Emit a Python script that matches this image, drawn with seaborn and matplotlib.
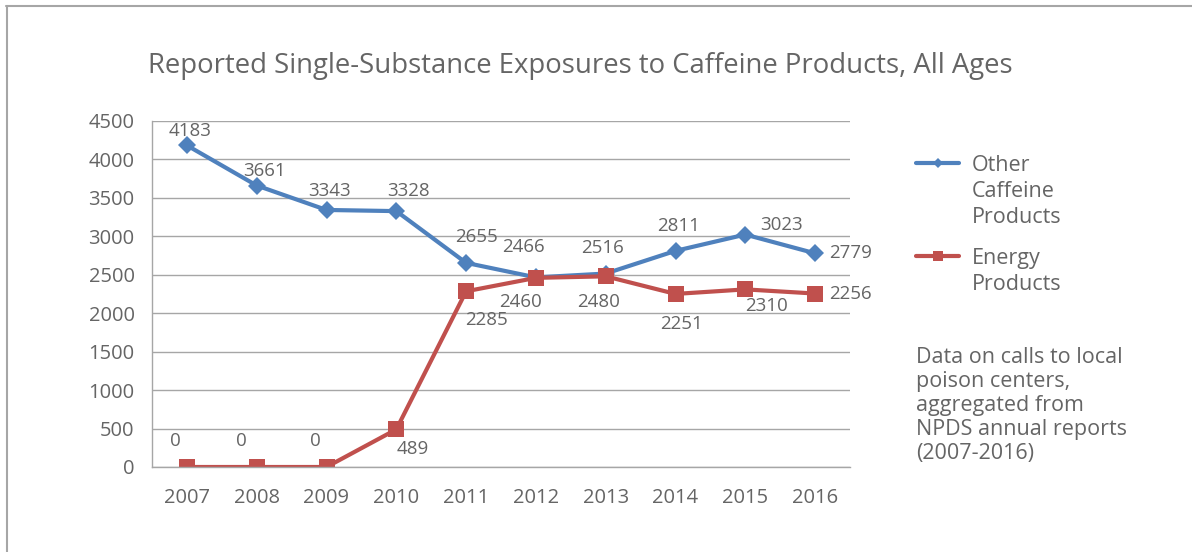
import matplotlib
matplotlib.use("Agg")
import matplotlib.pyplot as plt
from matplotlib.lines import Line2D
import seaborn as sns
import pandas as pd

years = ["2007", "2008", "2009", "2010", "2011", "2012", "2013", "2014", "2015", "2016"]
other_caffeine = [4183, 3661, 3343, 3328, 2655, 2466, 2516, 2811, 3023, 2779]
energy_products = [0, 0, 0, 489, 2285, 2460, 2480, 2251, 2310, 2256]
series_names = ["Other\nCaffeine\nProducts", "Energy\nProducts"]
title = "Reported Single-Substance Exposures to Caffeine Products, All Ages"
note = "Data on calls to local\npoison centers,\naggregated from\nNPDS annual reports\n(2007-2016)"

# label offsets (pixels, relative to the point; positive y = up)
blue_offsets = [(3, 14), (8, 15), (3, 19), (12, 20), (10, 26), (-12, 30), (-3, 26), (3, 25), (36, 10), None]
red_offsets = [(-12, 26), (-15, 26), (-11, 26), (16, -20), (20, -29), (-15, -24), (-7, -26), (6, -30), (21, -17), None]

sns.set_theme(style="white")
plt.rcParams['font.family'] = ['Open Sans', 'DejaVu Sans']

TXT = "#656565"
BLUE = "#4F81BD"
RED = "#C0504D"
GRID = "#A6A6A6"
TICK_FS = 14.5
LBL_FS = 13.5

df = pd.DataFrame({
    "x": list(range(len(years))) * 2,
    "value": other_caffeine + energy_products,
    "series": [series_names[0]] * len(years) + [series_names[1]] * len(years),
})

fig = plt.figure(figsize=(11.92, 5.52), dpi=100)
ax = fig.add_axes([152 / 1192, 1 - 467 / 552, 698 / 1192, 346 / 552])

sns.lineplot(data=df[df.series == series_names[0]], x="x", y="value", color=BLUE,
             marker="D", linewidth=3, markersize=9.5, markeredgewidth=0, ax=ax, legend=False)
sns.lineplot(data=df[df.series == series_names[1]], x="x", y="value", color=RED,
             marker="s", linewidth=3, markersize=11.5, markeredgewidth=0, ax=ax, legend=False)

ax.set_xlim(-0.5, len(years) - 0.5)
ax.set_ylim(0, 4500)
ax.set_yticks(range(0, 4501, 500))
ax.set_xticks(range(len(years)))
ax.set_xticklabels(years)
ax.set_xticks([i - 0.5 for i in range(len(years) + 1)], minor=True)
ax.tick_params(axis="x", which="major", length=0, pad=15, labelsize=TICK_FS, labelcolor=TXT)
ax.tick_params(axis="x", which="minor", length=4.5, width=1, color=GRID, direction="out")
ax.tick_params(axis="y", which="major", length=4.5, width=1, color=GRID, direction="out",
               labelsize=TICK_FS, labelcolor=TXT, pad=8)
ax.yaxis.grid(True, color=GRID, linewidth=1)
ax.xaxis.grid(False)
for s in ["top", "right"]:
    ax.spines[s].set_visible(False)
for s in ["left", "bottom"]:
    ax.spines[s].set_color(GRID)
    ax.spines[s].set_linewidth(1)
ax.set_xlabel("")
ax.set_ylabel("")
ax.set_axisbelow(True)

# data labels
def label(vals, offsets):
    for i, v in enumerate(vals):
        off = offsets[i]
        if off is None:
            ax.annotate(str(v), (i, v), xytext=(14, 0), textcoords="offset pixels",
                        ha="left", va="center", fontsize=LBL_FS, color=TXT)
        else:
            ax.annotate(str(v), (i, v), xytext=off, textcoords="offset pixels",
                        ha="center", va="center", fontsize=LBL_FS, color=TXT)

label(other_caffeine, blue_offsets)
label(energy_products, red_offsets)

fig.text(148 / 1192, 1 - 66 / 552, title, ha="left", va="center", fontsize=19.8, color=TXT)

handles = [Line2D([0], [0], color=BLUE, lw=3, marker="D", markersize=5, markeredgewidth=0),
           Line2D([0], [0], color=RED, lw=3, marker="s", markersize=7, markeredgewidth=0)]
leg = fig.legend(handles, series_names, loc="upper left", bbox_to_anchor=(916 / 1192, 1 - 155 / 552),
                 frameon=False, fontsize=15.5, handlelength=2.0, labelspacing=0.92,
                 handletextpad=0.6, borderaxespad=0, borderpad=0)
for t in leg.get_texts():
    t.set_color(TXT)
    t.set_linespacing(1.32)
for col in leg._legend_handle_box.get_children():
    for item in col.get_children():
        item.align = "top"

fig.text(916 / 1192, 1 - 347 / 552, note, ha="left", va="top", fontsize=15.5, color=TXT,
         linespacing=1.18)

# figure border (top and left)
fig.add_artist(Line2D([6 / 1192, 1], [1 - 5.5 / 552, 1 - 5.5 / 552], color=GRID, lw=1.5,
                      transform=fig.transFigure))
fig.add_artist(Line2D([7 / 1192, 7 / 1192], [0, 1 - 5.5 / 552], color=GRID, lw=1.5,
                      transform=fig.transFigure))

fig.savefig("out.png", dpi=100)
